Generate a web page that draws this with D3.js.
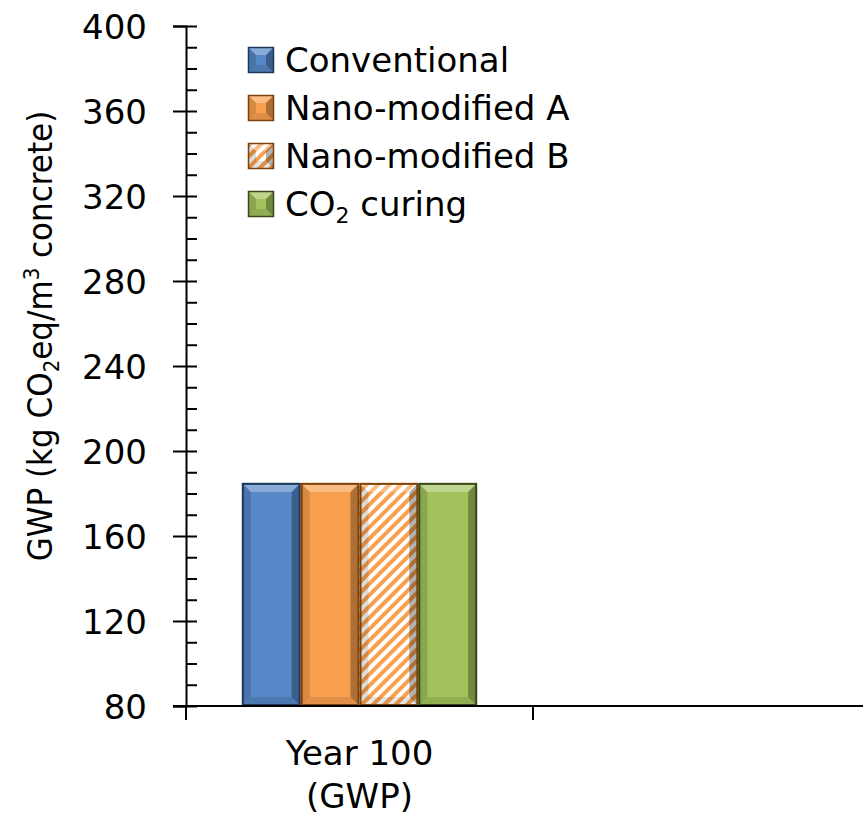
<!DOCTYPE html>
<html>
<head>
<meta charset="utf-8">
<style>
body { margin: 0; background: #fff; }
text { font-family: "DejaVu Sans", sans-serif; fill: #000; }
</style>
</head>
<body>
<div id="container"></div>
<script src="https://d3js.org/d3.v7.min.js"></script>
<script>
// data
const categories = ["Year 100|(GWP)", ""];
const series = ["Conventional", "Nano-modified A", "Nano-modified B", "CO2 curing"];
const values = [185, 185, 185, 185];   // only the first category has bars
const yTicks = [80, 120, 160, 200, 240, 280, 320, 360, 400];

const fills = ["#5687c6", "#f9a04f", "url(#hatch)", "#a4c25c"];
const edges = ["#1f3859", "#7d4208", "#7d4208", "#37491a"];

const width = 863, height = 820;
const marginLeft = 186, marginTop = 26, marginBottom = 114;

const svg = d3.create("svg").attr("width", width).attr("height", height);

const defs = svg.append("defs");
const pat = defs.append("pattern")
    .attr("id", "hatch")
    .attr("patternUnits", "userSpaceOnUse")
    .attr("width", 8).attr("height", 8)
    .attr("patternTransform", "rotate(45)");
pat.append("rect").attr("width", 8).attr("height", 8).attr("fill", "#fff");
pat.append("rect").attr("width", 4).attr("height", 8).attr("fill", "#f9a04f");

const y = d3.scaleLinear()
    .domain([80, 400])
    .range([height - marginBottom, marginTop]);

// second (empty) category runs off the right edge, as in the original
const x = d3.scaleBand()
    .domain(categories)
    .range([marginLeft, marginLeft + 2 * 347]);

const x1 = d3.scaleBand()
    .domain(series)
    .range([0, x.bandwidth()])
    .paddingInner(0)
    .paddingOuter(0.95);

// bars with a bevel look
function bevel(g, x0, y0, w, h, b) {
    const polys = [
        [[[x0, y0], [x0 + w, y0], [x0 + w - b, y0 + b], [x0 + b, y0 + b]], "#fff", 0.3],
        [[[x0, y0], [x0 + b, y0 + b], [x0 + b, y0 + h - b], [x0, y0 + h]], "#000", 0.14],
        [[[x0 + w, y0], [x0 + w, y0 + h], [x0 + w - b, y0 + h - b], [x0 + w - b, y0 + b]], "#000", 0.3],
        [[[x0, y0 + h], [x0 + b, y0 + h - b], [x0 + w - b, y0 + h - b], [x0 + w, y0 + h]], "#000", 0.1]
    ];
    polys.forEach(([pts, c, o]) => {
        g.append("polygon")
            .attr("points", pts.map(p => p.join(",")).join(" "))
            .attr("fill", c).attr("fill-opacity", o);
    });
}

const bars = svg.append("g");
series.forEach((s, i) => {
    const bx = x(categories[0]) + x1(s);
    const by = y(values[i]);
    const bw = x1.bandwidth();
    const bh = y(80) - by;
    bars.append("rect")
        .attr("x", bx).attr("y", by)
        .attr("width", bw).attr("height", bh)
        .attr("fill", fills[i]);
    bevel(bars, bx, by, bw, bh, 9);
    bars.append("rect")
        .attr("x", bx + 1).attr("y", by + 1)
        .attr("width", bw - 2).attr("height", bh - 2)
        .attr("fill", "none")
        .attr("stroke", edges[i]).attr("stroke-width", 2);
});

// y axis: major ticks cross, minor ticks inside
svg.append("g")
    .attr("transform", `translate(${marginLeft},0)`)
    .call(d3.axisLeft(y).tickValues(yTicks).tickSize(13).tickPadding(26))
    .call(g => g.selectAll("text").attr("font-size", 34).attr("font-family", "DejaVu Sans").attr("dy", "0.36em"))
    .call(g => g.selectAll("line,path").attr("stroke", "#000").attr("stroke-width", 2));

svg.append("g")
    .attr("transform", `translate(${marginLeft},0)`)
    .call(d3.axisRight(y).tickValues(d3.range(80, 401, 10)).tickSize(11).tickFormat(""))
    .call(g => g.select(".domain").remove())
    .call(g => g.selectAll("line").attr("stroke", "#000").attr("stroke-width", 2));

// x axis
const xa = svg.append("g");
xa.append("line")
    .attr("x1", marginLeft - 13).attr("x2", width)
    .attr("y1", y(80)).attr("y2", y(80))
    .attr("stroke", "#000").attr("stroke-width", 2);
xa.selectAll(".tk").data(categories).join("line")
    .attr("x1", d => x(d)).attr("x2", d => x(d))
    .attr("y1", y(80)).attr("y2", y(80) + 14)
    .attr("stroke", "#000").attr("stroke-width", 2);
const xl = xa.selectAll(".lbl").data(categories.filter(d => d)).join("text")
    .attr("text-anchor", "middle")
    .attr("font-size", 34)
    .attr("y", y(80) + 59);
xl.selectAll("tspan").data(d => d.split("|").map(t => [d, t])).join("tspan")
    .attr("x", ([d]) => x(d) + x.bandwidth() / 2)
    .attr("dy", (_, i) => i ? 43 : 0)
    .text(([, t]) => t);

// y title (a bit condensed, like the original)
const yt = svg.append("text")
    .attr("transform", "translate(52,336) rotate(-90) scale(0.94,1)")
    .attr("text-anchor", "middle")
    .attr("font-size", 33);
yt.append("tspan").text("GWP (kg CO");
yt.append("tspan").attr("font-size", 21).attr("dy", 7).text("2");
yt.append("tspan").attr("dy", -7).text("eq/m");
yt.append("tspan").attr("font-size", 21).attr("dy", -13).text("3");
yt.append("tspan").attr("dy", 13).text(" concrete)");

// legend
const leg = svg.append("g").attr("transform", "translate(248,47)");
const legFills = ["#5687c6", "#f9a04f", "url(#hatch)", "#a4c25c"];
series.forEach((s, i) => {
    const g = leg.append("g").attr("transform", `translate(0,${i * 48})`);
    g.append("rect").attr("width", 26).attr("height", 26).attr("fill", legFills[i]);
    bevel(g, 0, 0, 26, 26, 8);
    g.append("rect").attr("x", 0.5).attr("y", 0.5).attr("width", 25).attr("height", 25)
        .attr("fill", "none").attr("stroke", edges[i]).attr("stroke-width", 1.5);
    const t = g.append("text").attr("x", 37).attr("y", 25).attr("font-size", 34);
    if (s === "CO2 curing") {
        t.append("tspan").text("CO");
        t.append("tspan").attr("font-size", 22).attr("dy", 7).text("2");
        t.append("tspan").attr("dy", -7).text(" curing");
    } else {
        t.text(s);
    }
});

container.append(svg.node());
</script>
</body>
</html>
